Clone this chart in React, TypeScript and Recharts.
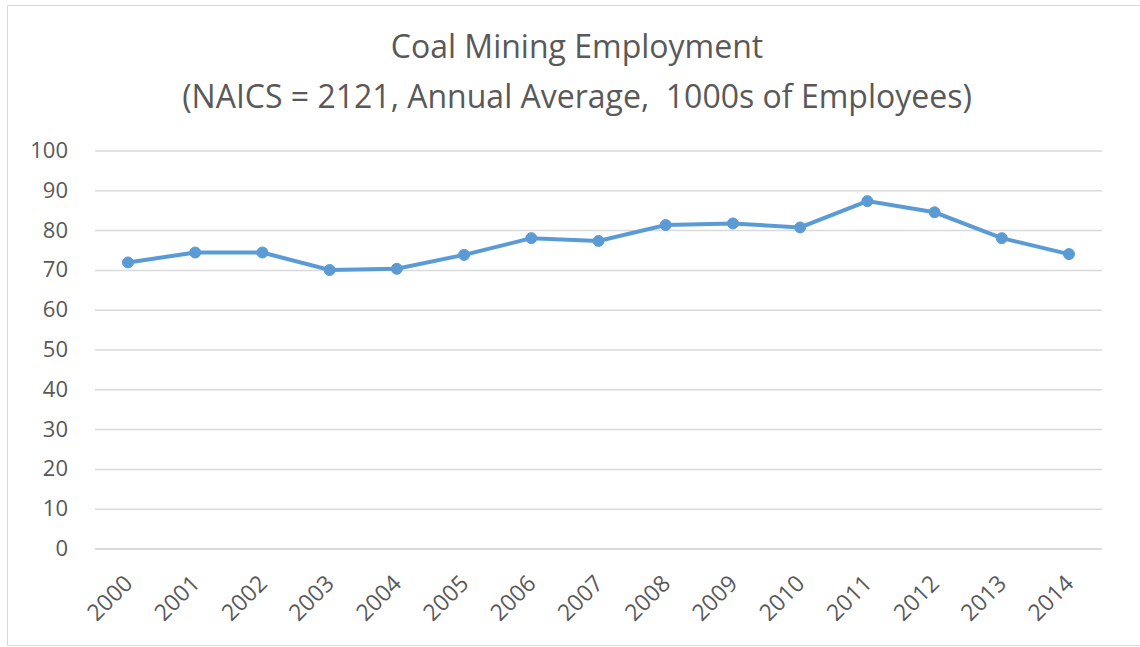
import { FC } from "react";
import { LineChart, Line, XAxis, YAxis, CartesianGrid } from "recharts";

const years = [
  "2000", "2001", "2002", "2003", "2004", "2005", "2006", "2007",
  "2008", "2009", "2010", "2011", "2012", "2013", "2014",
];
const employment = [
  72.0, 74.5, 74.5, 70.1, 70.4, 73.9, 78.1, 77.4, 81.4, 81.8, 80.8, 87.4, 84.6,
  78.1, 74.1,
];
const yTicks = [0, 10, 20, 30, 40, 50, 60, 70, 80, 90, 100];

const titleLine1 = "Coal Mining Employment";
const titleLine2 = "(NAICS = 2121, Annual Average,  1000s of Employees)";

const FONT = "'Open Sans', sans-serif";
const TEXT = "#595959";
const GRID = "#d9d9d9";
const BLUE = "#5b9bd5";

const chartData = years.map((year, i) => ({ year, value: employment[i] }));

const YTick = (props: any) => {
  const { x, y, payload } = props;
  return (
    <text x={x} y={y} dy={7} textAnchor="end" fill={TEXT} fontSize={22} fontFamily={FONT}>
      {payload.value}
    </text>
  );
};

const XTick = (props: any) => {
  const { x, y, payload } = props;
  return (
    <g transform={`translate(${x + 6},${y + 36}) rotate(-45)`}>
      <text x={0} y={0} textAnchor="end" fill={TEXT} fontSize={23} fontFamily={FONT}>
        {payload.value}
      </text>
    </g>
  );
};

const App: FC = () => {
  return (
    <div
      style={{
        position: "absolute",
        left: 0,
        top: 0,
        width: 1140,
        height: 647,
        background: "#fff",
        overflow: "hidden",
      }}
    >
      {/* chart frame */}
      <div
        style={{
          position: "absolute",
          left: 7,
          top: 5,
          width: 1200,
          height: 639,
          border: `1px solid ${GRID}`,
        }}
      />
      <div
        style={{
          position: "absolute",
          left: 0,
          top: 21,
          width: 1154,
          textAlign: "center",
          fontFamily: FONT,
          fontSize: 32,
          color: TEXT,
          lineHeight: "50px",
          whiteSpace: "pre",
        }}
      >
        <div>{titleLine1}</div>
        <div>{titleLine2}</div>
      </div>
      <div style={{ position: "absolute", left: 0, top: 0 }}>
        <LineChart
          width={1140}
          height={647}
          data={chartData}
          margin={{ top: 151, right: 38, bottom: 0, left: 0 }}
        >
          <CartesianGrid vertical={false} stroke={GRID} strokeWidth={1.5} />
          <XAxis
            dataKey="year"
            height={98}
            padding={{ left: 33, right: 33 }}
            axisLine={{ stroke: GRID, strokeWidth: 1.5 }}
            tickLine={false}
            tickSize={0}
            tickMargin={0}
            interval={0}
            tick={<XTick />}
          />
          <YAxis
            domain={[0, 100]}
            ticks={yTicks}
            width={95}
            axisLine={false}
            tickLine={false}
            tickSize={0}
            tickMargin={27}
            tick={<YTick />}
          />
          <Line
            type="linear"
            dataKey="value"
            stroke={BLUE}
            strokeWidth={4}
            dot={{ r: 5.5, fill: BLUE, stroke: BLUE, strokeWidth: 1 }}
            isAnimationActive={false}
          />
        </LineChart>
      </div>
    </div>
  );
};

export default App;
